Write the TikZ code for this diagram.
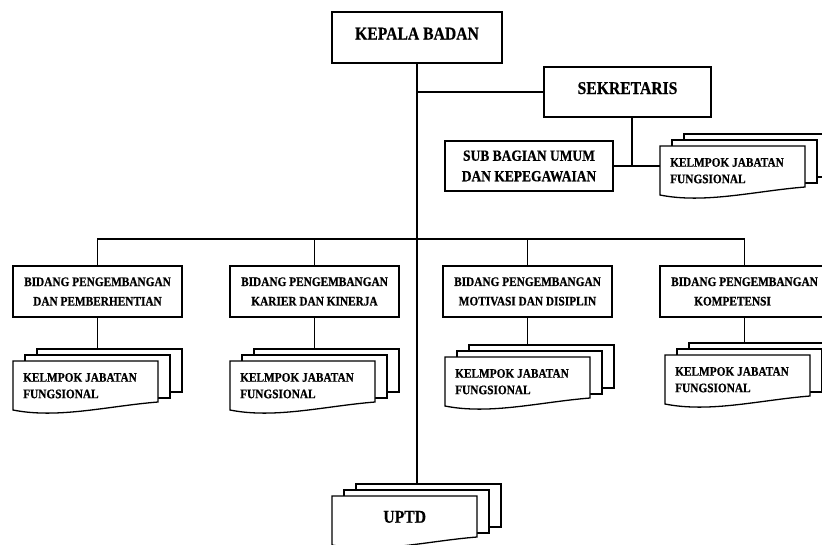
\documentclass[tikz,border=0pt]{standalone}
\usepackage{fontspec}
\setmainfont{Liberation Serif}[FakeStretch=0.87, BoldFeatures={FakeBold=0.6}]
\usetikzlibrary{calc}
\tikzset{
  ln/.style={line width=1.3pt},
  orgbox/.style={draw, line width=1.3pt, fill=white, align=center, inner sep=0pt},
  bigfont/.style={font=\bfseries\fontsize{18}{22}\selectfont},
  raised/.style={text height=12pt, text depth=8pt},
  midfont/.style={font=\bfseries\fontsize{15.5}{20.5}\selectfont},
  bidfont/.style={font=\bfseries\fontsize{13}{19.5}\selectfont},
  kdoc/.style={inner xsep=10pt, inner ysep=0pt, minimum width=145pt, minimum height=49pt,
               text width=125pt, font=\bfseries\fontsize{13}{16.5}\selectfont},
  bidang/.style={orgbox, bidfont, minimum width=169pt, minimum height=51pt},
}
\newcommand\mdoc[4][align=flush left]{%
  \coordinate (#2-top) at ($#3+(24,-12)$);
  \filldraw[ln, fill=white] ($#3+(24,-12)$) rectangle ($#3+(169,31)$);
  \filldraw[ln, fill=white] ($#3+(12,-6)$) rectangle ($#3+(157,37)$);
  \filldraw[ln, fill=white] #3 -- ($#3+(145,0)$) -- ($#3+(145,41)$)
     .. controls ($#3+(95,45)$) and ($#3+(45,58)$) .. ($#3+(0,49)$) -- cycle;
  \node[kdoc, anchor=north west, #1] (#2) at #3 {#4};
}
\begin{document}
\begin{tikzpicture}[x=1pt, y=-1pt]
  \clip (0,0) rectangle (822,544);
  \fill[white] (0,0) rectangle (822,544);

  % boxes
  \node[orgbox, bigfont, raised, minimum width=170pt, minimum height=51pt] (kepala) at (417,37.5) {KEPALA BADAN};
  \node[orgbox, bigfont, raised, minimum width=167pt, minimum height=50pt] (sek) at (627.5,92) {SEKRETARIS};
  \node[orgbox, midfont, minimum width=168pt, minimum height=50pt] (sub) at (529,166) {SUB BAGIAN UMUM\\DAN KEPEGAWAIAN};

  \node[bidang] (b1) at (97.5,291.5) {BIDANG PENGEMBANGAN\\DAN PEMBERHENTIAN};
  \node[bidang] (b2) at (314.5,291.5) {BIDANG PENGEMBANGAN\\KARIER DAN KINERJA};
  \node[bidang] (b3) at (527.5,291.5) {BIDANG PENGEMBANGAN\\MOTIVASI DAN DISIPLIN};
  \node[bidang] (b4) at (744.5,291.5) {BIDANG PENGEMBANGAN\\KOMPETENSI\hspace*{24pt}};

  % multi-documents
  \mdoc{k0}{(660,146)}{KELMPOK JABATAN\\FUNGSIONAL}
  \mdoc{k1}{(13,361)}{KELMPOK JABATAN\\FUNGSIONAL}
  \mdoc{k2}{(230,361)}{KELMPOK JABATAN\\FUNGSIONAL}
  \mdoc{k3}{(445,357)}{KELMPOK JABATAN\\FUNGSIONAL}
  \mdoc{k4}{(665,355)}{KELMPOK JABATAN\\FUNGSIONAL}
  \mdoc[align=center, bigfont, raised]{uptd}{(332,496)}{UPTD}

  % connectors
  \coordinate (bus) at (417,239);
  \coordinate (jsek) at (632,0);
  \draw[ln] (kepala.south) -- (kepala.south |- uptd-top);
  \draw[ln] (kepala.south |- sek.west) -- (sek.west);
  \draw[ln] (jsek |- sek.south) -- (jsek |- sub.east);
  \draw[ln] (sub.east) -- (sub.east -| k0.west);
  \draw[ln] (b1.north) |- (bus) -| (b4.north);
  \draw[ln] (b2.north) -- (b2.north |- bus);
  \draw[ln] (b3.north) -- (b3.north |- bus);
  \draw[ln] (b1.south) -- (b1.south |- k1-top);
  \draw[ln] (b2.south) -- (b2.south |- k2-top);
  \draw[ln] (b3.south) -- (b3.south |- k3-top);
  \draw[ln] (b4.south) -- (b4.south |- k4-top);
\end{tikzpicture}
\end{document}
